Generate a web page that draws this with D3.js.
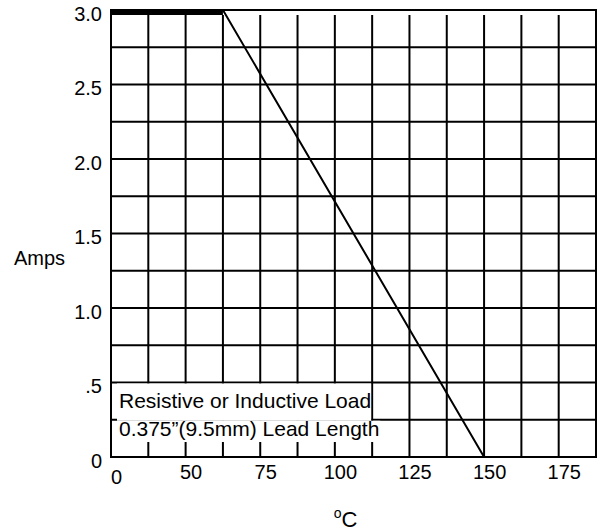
<!DOCTYPE html>
<html>
<head>
<meta charset="utf-8">
<script src="https://cdn.jsdelivr.net/npm/d3@7"></script>
<style>
  body { margin: 0; background: #fff; }
  text { font-family: "Liberation Sans", Arial, Helvetica, sans-serif; fill: #000; }
</style>
</head>
<body>
<script>

var width  = 601;
var height = 531;
var margin = { top: 10, right: 5, bottom: 74, left: 111 };
var innerW = width - margin.left - margin.right;
var innerH = height - margin.top - margin.bottom;

// derating curve: ambient temperature (C) -> amps
var temps = [0, 62.5, 150];
var amps  = [3.0, 3.0, 0];

var xTicks      = [0, 50, 75, 100, 125, 150, 175];
var yTicks      = [0, 0.5, 1.0, 1.5, 2.0, 2.5, 3.0];
var yTickLabels = ['0', '.5', '1.0', '1.5', '2.0', '2.5', '3.0'];
var notes       = ['Resistive or Inductive Load', '0.375\u201D(9.5mm) Lead Length'];

// grid: first two columns span 0-50, the rest are 12.5 C each
var xGrid = [0, 25].concat(d3.range(50, 187.6, 12.5));
var yGrid = d3.range(0, 3.01, 0.25);

var x = d3.scaleLinear()
          .domain([0, 50, 187.5])
          .range([0, innerW * 2 / 13, innerW]);

var y = d3.scaleLinear()
          .domain([0, 3])
          .range([innerH, 0]);

var svg = d3.select('body')
            .append('svg')
            .attr('width', width)
            .attr('height', height);

var g = svg.append('g')
           .attr('transform', 'translate(' + margin.left + ',' + margin.top + ')');

// grid lines
g.selectAll('line.vgrid')
 .data(xGrid.slice(1, -1))
 .enter()
 .append('line')
 .attr('class', 'vgrid')
 .attr('x1', function(d) { return x(d); })
 .attr('x2', function(d) { return x(d); })
 .attr('y1', y(3) + 5)
 .attr('y2', y(0))
 .attr('stroke', '#000')
 .attr('stroke-width', 2);

g.selectAll('line.hgrid')
 .data(yGrid.slice(1, -1))
 .enter()
 .append('line')
 .attr('class', 'hgrid')
 .attr('x1', 0)
 .attr('x2', innerW)
 .attr('y1', function(d) { return y(d); })
 .attr('y2', function(d) { return y(d); })
 .attr('stroke', '#000')
 .attr('stroke-width', 2);

// note box, white behind each line of text
var noteTop = y(0.5) + 1;
var noteMid = y(0.25);
var noteBot = y(0) - 15;
var rows = [[noteTop, noteMid + 1], [noteMid + 1, noteBot]];

var noteG = g.append('g');
notes.forEach(function(note, i) {
  var bg = noteG.append('rect')
                .attr('x', 6)
                .attr('y', rows[i][0])
                .attr('height', rows[i][1] - rows[i][0])
                .attr('fill', '#fff');
  var t = noteG.append('text')
               .attr('x', 8)
               .attr('y', i === 0 ? noteMid - 12 : noteBot - 6)
               .attr('font-size', 21)
               .text(note);
  bg.attr('width', t.node().getComputedTextLength() + (i === 0 ? 2 : 3));
});

// frame
g.append('rect')
 .attr('x', 0)
 .attr('y', 0)
 .attr('width', innerW)
 .attr('height', innerH)
 .attr('fill', 'none')
 .attr('stroke', '#000')
 .attr('stroke-width', 2);

// curve
var pts = temps.map(function(t, i) { return [t, amps[i]]; });

var line = d3.line()
             .x(function(d) { return x(d[0]); })
             .y(function(d) { return y(d[1]); });

g.append('path')
 .attr('d', line(pts))
 .attr('fill', 'none')
 .attr('stroke', '#000')
 .attr('stroke-width', 2);

// flat (rated) part drawn heavy
var flat = [];
for (var i = 0; i < pts.length - 1; i++) {
  if (pts[i][1] === pts[i + 1][1]) flat.push([pts[i], pts[i + 1]]);
}
g.selectAll('path.flat')
 .data(flat)
 .enter()
 .append('path')
 .attr('class', 'flat')
 .attr('d', line)
 .attr('transform', 'translate(0,2)')
 .attr('stroke', '#000')
 .attr('stroke-width', 6);

// axes
var xAxis = d3.axisBottom(x)
              .tickValues(xTicks)
              .tickSize(0)
              .tickPadding(8);

var xg = g.append('g')
          .attr('transform', 'translate(0,' + innerH + ')')
          .call(xAxis);
xg.select('.domain').remove();
xg.selectAll('text')
  .attr('font-size', 20)
  .attr('font-family', null)
  .attr('dx', 5);
xg.selectAll('text')
  .filter(function(d) { return d === 0; })
  .attr('dy', '0.95em');

var yAxis = d3.axisLeft(y)
              .tickValues(yTicks)
              .tickSize(0)
              .tickPadding(9)
              .tickFormat(function(d, i) { return yTickLabels[i]; });

var yg = g.append('g').call(yAxis);
yg.select('.domain').remove();
yg.selectAll('text')
  .attr('font-size', 20)
  .attr('font-family', null)
  .attr('dy', '0.5em');

// axis titles
svg.append('text')
   .attr('x', 14)
   .attr('y', 265)
   .attr('font-size', 20)
   .text('Amps');

var xt = svg.append('text')
            .attr('x', margin.left + innerW / 2 - 8)
            .attr('y', 527)
            .attr('text-anchor', 'middle')
            .attr('font-size', 22);
xt.append('tspan')
  .attr('font-size', 14)
  .attr('dy', -9)
  .text('o');
xt.append('tspan')
  .attr('dy', 9)
  .text('C');

</script>
</body>
</html>
